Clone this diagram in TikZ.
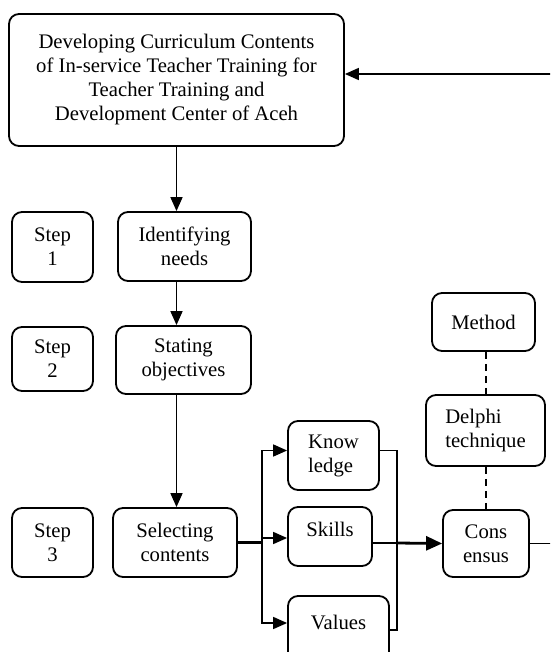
\documentclass[tikz,border=0pt]{standalone}
\usepackage{fontspec}
\setmainfont{Liberation Serif}
\usepackage{tikz}
\usetikzlibrary{arrows.meta, positioning, calc}
\tikzstyle{box} = [rectangle, rounded corners=10pt, draw=black, line width=1.8pt, align=center, inner sep=2pt, font=\fontsize{20.7}{24}\selectfont]
\tikzstyle{stepbox} = [box, minimum width=81pt]
\tikzstyle{arrow} = [line width=1.6pt, -{Triangle[length=14pt,width=12pt]}]
\tikzstyle{link} = [line width=1.6pt]

\begin{document}
\begin{tikzpicture}[x=1pt, y=-1pt]
    \useasboundingbox (0,0) rectangle (550,652);
    \clip (0,0) rectangle (550,652);

    \node[box, minimum width=335pt, minimum height=132pt] (top) at (176.5,80) {Developing Curriculum Contents\\of In-service Teacher Training for\\Teacher Training and\\Development Center of Aceh};

    \node[stepbox, minimum height=70pt] (step1) at (52.5,247) {Step\\1};
    \node[box, minimum width=133pt, minimum height=69pt] (ident) at (184.5,246.5) {Identifying\\needs};
    \node[stepbox, minimum height=64pt] (step2) at (52.5,359) {Step\\2};
    \node[box, minimum width=135pt, minimum height=68pt] (stating) at (183.5,360) {Stating\\objectives};
    \node[stepbox, minimum height=69pt] (step3) at (52.5,542.5) {Step\\3};
    \node[box, minimum width=124pt, minimum height=69pt] (select) at (175,542.5) {Selecting\\contents};

    \node[box, align=left, minimum width=91pt, minimum height=69pt] (know) at (333.5,455.5) {Know\\ledge};
    \node[box, minimum width=84pt, minimum height=59pt, text depth=14pt] (skills) at (330,536.5) {Skills};
    \node[box, minimum width=101pt, minimum height=68pt, text depth=16pt] (values) at (338.5,630) {Values};

    \node[box, minimum width=103pt, minimum height=58pt] (method) at (483.5,322) {Method};
    \node[box, align=left, minimum width=119pt, minimum height=71pt] (delphi) at (485.5,430.5) {Delphi\\technique};
    \node[box, minimum width=86pt, minimum height=67pt] (cons) at (486,543.5) {Cons\\ensus};

    % Steps
    \draw[arrow] (top.south) -- (top.south |- ident.north);
    \draw[arrow] (ident.south -| top.south) -- (top.south |- stating.north);
    \draw[arrow] (stating.south -| top.south) -- (top.south |- select.north);

    % Contents
    \coordinate (branch) at (262,542.5);
    \coordinate (merge) at (397,543);
    \draw[line width=2.8pt] (select.east) -- (branch);
    \draw[arrow] (branch) |- ($(know.west)+(0,-5)$);
    \draw[arrow] (branch) |- ($(skills.west)+(0,1.5)$);
    \draw[arrow] (branch) |- ($(values.west)+(0,-7)$);
    \draw[link] ($(know.east)+(0,-5)$) -| (merge) |- ($(values.east)+(0,0)$);
    \draw[link] ($(skills.east)+(0,6.5)$) -- (merge);
    \draw[line width=2.8pt, -{Triangle[length=16pt,width=14pt]}] (merge) -- (cons.west);

    % Method
    \draw[link, dash pattern=on 7pt off 5pt] (method.south -| cons.north) -- (delphi.north -| cons.north);
    \draw[link, dash pattern=on 7pt off 5pt] (delphi.south -| cons.north) -- (cons.north);

    % Feedback
    \coordinate (loop) at (560,300);
    \draw[arrow] (cons.east) -| (loop) |- ($(top.east)+(0,-6)$);
\end{tikzpicture}
\end{document}
